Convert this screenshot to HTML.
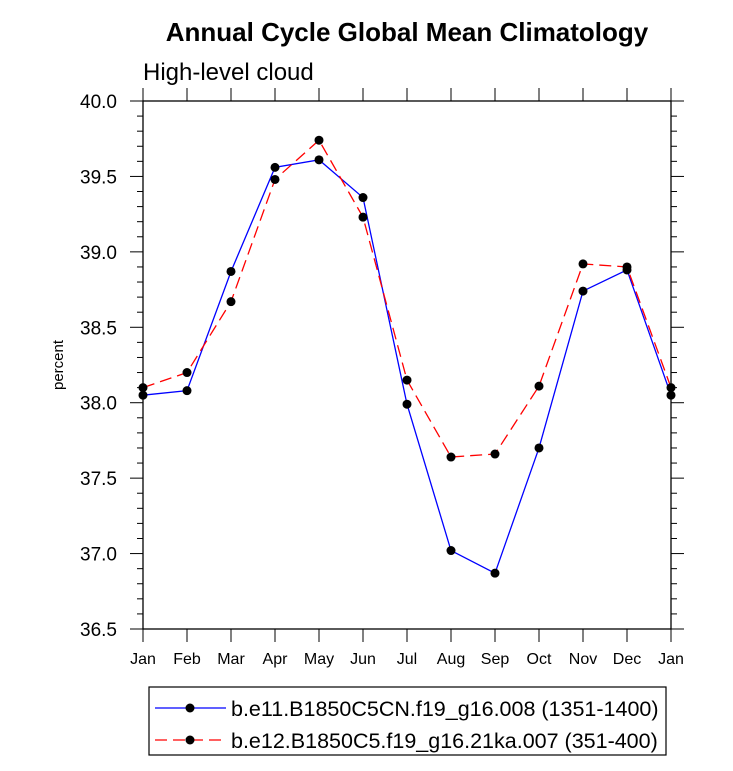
<!DOCTYPE html>
<html><head><meta charset="utf-8"><style>
body{margin:0;background:#fff}
svg text{font-family:"Liberation Sans",sans-serif}
</style></head><body>
<svg id="c" width="733" height="766"></svg>
<script>
const months=["Jan","Feb","Mar","Apr","May","Jun","Jul","Aug","Sep","Oct","Nov","Dec","Jan"];
const blueVals=[38.05,38.08,38.87,39.56,39.61,39.36,37.99,37.02,36.87,37.70,38.74,38.88,38.05];
const redVals=[38.10,38.20,38.67,39.48,39.74,39.23,38.15,37.64,37.66,38.11,38.92,38.90,38.10];
const yTicks=["36.5","37.0","37.5","38.0","38.5","39.0","39.5","40.0"];
const L=143,R=671,T=101,B=629,yMin=36.5,yMax=40.0;
const xs=i=>L+(R-L)*i/(months.length-1);
const ys=v=>B-(v-yMin)/(yMax-yMin)*(B-T);
const svg=document.getElementById('c');const NS="http://www.w3.org/2000/svg";
function mk(t,a,txt){const e=document.createElementNS(NS,t);for(const k in a)e.setAttribute(k,a[k]);if(txt!=null)e.textContent=txt;svg.appendChild(e);return e;}
let e;
e=mk('text',{x:407,y:41,'text-anchor':'middle','font-size':26,'font-weight':'bold'},'Annual Cycle Global Mean Climatology');


e=mk('text',{x:143,y:80,'font-size':24},'High-level cloud');


e=mk('text',{x:0,y:0,'font-size':15,'text-anchor':'middle',transform:'translate(63,365) rotate(-90)'},'percent');


e=mk('rect',{x:L,y:T,width:R-L,height:B-T,fill:'none',stroke:'#000','stroke-width':1.3});


for(let k=0;k<=35;k++){const v=yMin+k*0.1;const y=ys(v);const maj=k%5==0;const len=maj?13:6;
 mk('line',{x1:L-len,x2:L,y1:y,y2:y,stroke:'#000','stroke-width':1});
 mk('line',{x1:R,x2:R+len,y1:y,y2:y,stroke:'#000','stroke-width':1});}
yTicks.forEach(t=>{e=mk('text',{x:L-26,y:ys(+t)+7,'text-anchor':'end','font-size':19},t);

});
months.forEach((m,i)=>{const x=xs(i);
 mk('line',{x1:x,x2:x,y1:B,y2:B+13,stroke:'#000','stroke-width':1});
 mk('line',{x1:x,x2:x,y1:T-13,y2:T,stroke:'#000','stroke-width':1});
 e=mk('text',{x:x,y:B+35,'text-anchor':'middle','font-size':16},m);
 
 });
function series(vals,col,dash,name){
 e=mk('polyline',{points:vals.map((v,i)=>xs(i)+','+ys(v)).join(' '),fill:'none',stroke:col,'stroke-width':1.3,'stroke-dasharray':dash});
 
 
 vals.forEach((v,i)=>{e=mk('circle',{cx:xs(i),cy:ys(v),r:4.5,fill:'#000'});
 
 });}
series(blueVals,'#0000ff','none','blue-series');
series(redVals,'#ff0000','12,6','red-series');
e=mk('rect',{x:149,y:687,width:517,height:68,fill:'#fff',stroke:'#000','stroke-width':1.2});


mk('line',{x1:155,x2:226,y1:708,y2:708,stroke:'#0000ff','stroke-width':1.3});
mk('circle',{cx:190,cy:708,r:4.5,fill:'#000'});
e=mk('text',{x:231,y:716,'font-size':21.5},'b.e11.B1850C5CN.f19_g16.008 (1351-1400)');


mk('line',{x1:155,x2:226,y1:740,y2:740,stroke:'#ff0000','stroke-width':1.3,'stroke-dasharray':'12,6'});
mk('circle',{cx:190,cy:740,r:4.5,fill:'#000'});
e=mk('text',{x:231,y:748,'font-size':21.5},'b.e12.B1850C5.f19_g16.21ka.007 (351-400)');


</script>
</body></html>
